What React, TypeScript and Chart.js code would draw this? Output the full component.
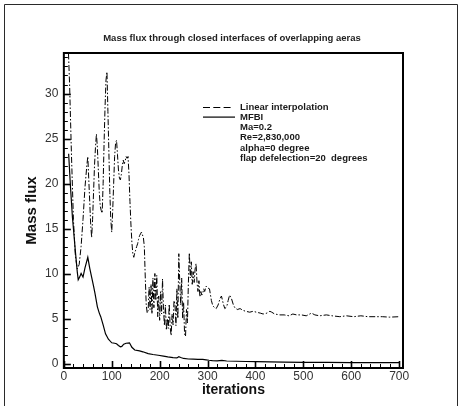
import React, { useEffect, useRef } from "react";
import { Chart, registerables } from "chart.js";

Chart.register(...registerables);

const FONT = '"Liberation Sans", Arial, Helvetica, sans-serif';

const chartTitle = "Mass flux through closed interfaces of overlapping aeras";
const xTitle = "iterations";
const yTitle = "Mass flux";

const xTickValues = [0, 100, 200, 300, 400, 500, 600, 700];
const yTickValues = [0, 5, 10, 15, 20, 25, 30];

// Linear interpolation run (dash-dot curve)
const linearLabel = "Linear interpolation";
const linearIter = [
  8, 12, 16, 20, 24, 28, 32, 36, 40, 44, 48, 50, 52, 54, 56, 58, 60, 62, 64, 66, 68, 70,
  72, 74, 76, 78, 80, 82, 84, 86, 88, 90, 92, 94, 96, 98, 100, 102, 104, 106, 108, 110,
  112, 114, 116, 118, 120, 122, 124, 126, 128, 130, 132, 134, 136, 138, 140, 142, 144,
  146, 148, 150, 152, 154, 156, 158, 160, 162, 164, 166, 168, 170, 172, 174, 176, 178,
  180, 182, 184, 186, 188, 190, 192, 194, 196, 198, 200, 202, 204, 206, 208, 210, 212,
  214, 216, 218, 220, 222, 224, 226, 228, 230, 232, 234, 236, 238, 240, 242, 244, 246,
  248, 250, 252, 254, 256, 258, 260, 262, 264, 266, 268, 270, 272, 274, 276, 278, 280,
  282, 284, 286, 288, 290, 292, 294, 297, 300, 304, 308, 311, 315, 318, 322, 326, 329,
  333, 336, 340, 343, 346, 350, 354, 357, 362, 368, 374, 380, 388, 395, 402, 410, 416,
  424, 430, 434, 440, 451, 460, 470, 478, 486, 496, 506, 517, 524, 534, 548, 560, 576,
  590, 605, 620, 635, 650, 665, 680, 700,
];
const linearFlux = [
  37, 31, 23, 16, 12, 10.5, 11, 13, 16, 19.5, 22, 23, 20.5, 18, 15.5, 14, 16, 19, 22, 24,
  25.5, 24, 21.5, 19, 17.5, 17, 16.7, 20, 24.5, 28.5, 31.5, 32.4, 28, 23.5, 19, 16, 14.6,
  17, 20, 23, 24.5, 24.8, 23.2, 21.5, 20.6, 20.4, 21, 22, 22.6, 22.2, 22.5, 23, 22.8, 23,
  21, 18, 15.5, 13.5, 12.2, 11.8, 12.3, 12.6, 13, 13.3, 13.8, 14.2, 14.4, 14.6, 14.3, 14,
  13, 9.5, 6.5, 5.6, 5.9, 8.5, 6.0, 8.8, 5.5, 9.5, 6.2, 10.0, 7.0, 9.8, 5.2, 7.5, 4.8, 8.0,
  5.5, 9.4, 6.0, 4.2, 6.5, 3.7, 5.0, 3.9, 6.6, 4.0, 3.1, 5.5, 4.3, 7.0, 6.6, 4.2, 8.3, 5.0,
  12.2, 9.0, 6.5, 9.5, 5.0, 6.8, 3.3, 3.0, 6.0, 4.5, 9.0, 12.3, 9.5, 11.3, 8.8, 10.2, 9.0,
  10.5, 11.1, 9.0, 8.0, 9.2, 7.4, 8.0, 7.6, 7.8, 8.3, 8.0, 8.6, 8.4, 8.3, 7.0, 6.4, 6.2,
  6.1, 6.5, 7.2, 7.5, 6.6, 6.1, 6.3, 7.0, 7.6, 7.2, 6.5, 6.2, 6.0, 6.1, 5.9, 5.8, 5.7, 5.8,
  5.7, 5.6, 5.5, 5.6, 5.8, 5.7, 5.5, 5.4, 5.4, 5.3, 5.5, 5.4, 5.4, 5.3, 5.6, 5.4, 5.3, 5.4,
  5.3, 5.2, 5.3, 5.2, 5.3, 5.2, 5.2, 5.2, 5.15, 5.2,
];

// MFBI run (solid curve)
const mfbiLabel = "MFBI";
const mfbiIter = [
  10, 14, 18, 20, 24, 28, 30, 33, 36, 40, 44, 48, 50, 54, 58, 62, 65, 70, 74, 77, 82, 87,
  93, 100, 106, 110, 114, 118, 121, 125, 130, 137, 142, 148, 158, 165, 176, 186, 197, 208,
  217, 228, 236, 240, 244, 250, 260, 270, 280, 290, 297, 303, 310, 320, 330, 340, 360, 380,
  402, 430, 460, 500, 550, 600, 650, 700,
];
const mfbiFlux = [
  23.3, 19.5, 16.2, 15, 12.5, 10.2, 9.3, 9.6, 10, 9.6, 10.6, 11.4, 11.8, 10.6, 9.6, 8.6,
  7.8, 6.3, 5.6, 5.2, 4.3, 3.3, 2.7, 2.3, 2.25, 2.2, 2.0, 1.85, 1.9, 2.15, 2.25, 2.3, 1.8,
  1.5, 1.4, 1.3, 1.1, 1.0, 0.92, 0.82, 0.73, 0.66, 0.62, 0.75, 0.66, 0.56, 0.5, 0.48, 0.46,
  0.45, 0.4, 0.36, 0.33, 0.3, 0.34, 0.28, 0.25, 0.22, 0.2, 0.18, 0.15, 0.13, 0.12, 0.1, 0.1,
  0.09,
];

// Flow case description printed under the legend entries
const caseNotes = ["Ma=0.2", "Re=2,830,000", "alpha=0 degree", "flap defelection=20  degrees"];

const xMinorStep = 20;
const yMinorStep = 1;

// Heading, plot box, inward tick marks, outer frame and the in-plot legend
const framePlugin = {
  id: "frameAndLegend",
  afterDraw(chart: any) {
    const { ctx, chartArea: a, scales } = chart;
    const xs = scales.x;
    const ys = scales.y;
    ctx.save();

    // outer frame of the figure
    ctx.strokeStyle = "#2a2a2a";
    ctx.lineWidth = 1;
    ctx.beginPath();
    ctx.moveTo(4.5, 406);
    ctx.lineTo(4.5, 4.5);
    ctx.lineTo(457.5, 4.5);
    ctx.lineTo(457.5, 406);
    ctx.stroke();

    // heading, centred on the figure
    ctx.fillStyle = "#222";
    ctx.font = `bold 9.5px ${FONT}`;
    ctx.textAlign = "center";
    ctx.textBaseline = "middle";
    ctx.fillText(chartTitle, 232, 38.7);

    // inward ticks on the left axis
    ctx.strokeStyle = "#000";
    for (let v = 0; v <= ys.max; v += yMinorStep) {
      const major = v % 5 === 0;
      const py = Math.round(ys.getPixelForValue(v)) + 0.5;
      ctx.lineWidth = major ? 1.6 : 1;
      ctx.beginPath();
      ctx.moveTo(a.left, py);
      ctx.lineTo(a.left + (major ? 7 : 4), py);
      ctx.stroke();
    }
    // inward ticks on the bottom axis
    for (let v = 0; v <= xs.max; v += xMinorStep) {
      const major = v % 100 === 0;
      const px = Math.round(xs.getPixelForValue(v)) + 0.5;
      ctx.lineWidth = major ? 1.6 : 1;
      ctx.beginPath();
      ctx.moveTo(px, a.bottom);
      ctx.lineTo(px, a.bottom - (major ? 7 : 4));
      ctx.stroke();
    }

    // plot box
    ctx.lineWidth = 2;
    ctx.strokeRect(a.left, a.top, a.right - a.left, a.bottom - a.top);

    // legend
    const lx = 203;
    const tx = 240;
    const ty = 107.5;
    const step = 10.1;
    ctx.lineWidth = 1;
    ctx.setLineDash([7, 3.3]);
    ctx.beginPath();
    ctx.moveTo(lx, ty);
    ctx.lineTo(lx + 28, ty);
    ctx.stroke();
    ctx.setLineDash([]);
    ctx.lineWidth = 1.2;
    ctx.beginPath();
    ctx.moveTo(lx, ty + step - 0.5);
    ctx.lineTo(lx + 32, ty + step - 0.5);
    ctx.stroke();

    ctx.fillStyle = "#1a1a1a";
    ctx.font = `bold 9.5px ${FONT}`;
    ctx.textAlign = "left";
    ctx.textBaseline = "middle";
    const lines = [linearLabel, mfbiLabel, ...caseNotes];
    lines.forEach((t, i) => ctx.fillText(t, tx, ty + i * step));

    ctx.restore();
  },
};

export default function App() {
  const ref = useRef<HTMLCanvasElement>(null);

  useEffect(() => {
    const canvas = ref.current;
    if (!canvas) return;
    const chart = new Chart(canvas, {
      type: "line",
      data: {
        datasets: [
          {
            label: linearLabel,
            data: linearIter.map((x, i) => ({ x, y: linearFlux[i] })),
            borderColor: "#000",
            borderWidth: 1,
            borderDash: [6, 2, 1.5, 2],
            pointRadius: 0,
            fill: false,
            tension: 0,
          },
          {
            label: mfbiLabel,
            data: mfbiIter.map((x, i) => ({ x, y: mfbiFlux[i] })),
            borderColor: "#000",
            borderWidth: 1.2,
            pointRadius: 0,
            fill: false,
            tension: 0,
          },
        ],
      },
      options: {
        responsive: false,
        animation: false,
        devicePixelRatio: 1,
        layout: { padding: { left: 0, right: 60, top: 53, bottom: 0 } },
        plugins: {
          legend: { display: false },
          tooltip: { enabled: false },
          title: { display: false },
        },
        scales: {
          x: {
            type: "linear",
            min: 0,
            max: 708,
            afterBuildTicks: (s: any) => {
              s.ticks = xTickValues.map((value) => ({ value }));
            },
            grid: { display: false, drawTicks: false },
            border: { display: false },
            ticks: {
              color: "#333",
              padding: 3,
              maxRotation: 0,
              autoSkip: false,
              font: { family: FONT, size: 12, lineHeight: 1 },
            },
            title: {
              display: true,
              text: xTitle,
              color: "#111",
              font: { family: FONT, size: 14, weight: "bold", lineHeight: 1 },
              padding: { top: -3, bottom: 9 },
            },
          },
          y: {
            type: "linear",
            min: -0.5,
            max: 34.5,
            afterBuildTicks: (s: any) => {
              s.ticks = yTickValues.map((value) => ({ value }));
            },
            grid: { display: false, drawTicks: false },
            border: { display: false },
            ticks: {
              color: "#333",
              padding: 5.5,
              autoSkip: false,
              font: { family: FONT, size: 12, lineHeight: 1 },
            },
            title: {
              display: true,
              text: yTitle,
              color: "#111",
              font: { family: FONT, size: 15, weight: "bold", lineHeight: 1 },
              padding: { top: 24, bottom: 0.5 },
            },
          },
        },
      },
      plugins: [framePlugin],
    } as any);
    return () => chart.destroy();
  }, []);

  return (
    <div
      style={{
        position: "fixed",
        left: 0,
        top: 0,
        width: 463,
        height: 406,
        background: "#fff",
      }}
    >
      <canvas ref={ref} width={463} height={406} style={{ display: "block" }} />
    </div>
  );
}
